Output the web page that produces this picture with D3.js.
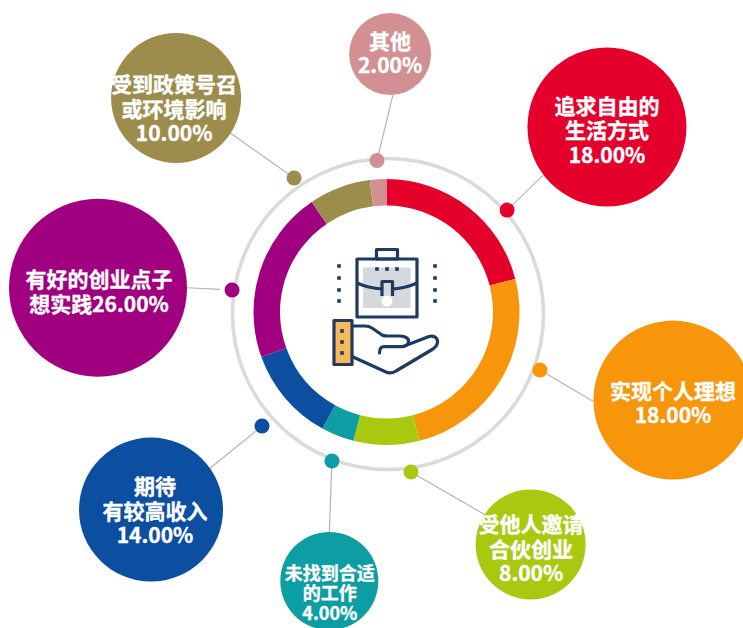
<!DOCTYPE html>
<html>
<head>
    <meta charset="utf-8">
    <style>
        html, body { margin: 0; padding: 0; background: #fff; overflow: hidden; }
        text { font-family: "Noto Sans CJK SC", "Noto Sans", sans-serif; font-weight: 700; }
    </style>
</head>
<body>
    <script src="https://cdnjs.cloudflare.com/ajax/libs/d3/7.8.5/d3.min.js"></script>
    <script>
        // data, clockwise from 12 o'clock
        var categories = ['追求自由的生活方式', '实现个人理想', '受他人邀请合伙创业', '未找到合适的工作',
            '期待有较高收入', '有好的创业点子想实践', '受到政策号召或环境影响', '其他'];
        var labelValues = [18, 18, 8, 4, 14, 26, 10, 2];
        // the ring in the picture is not drawn to the printed percentages, so its shares are read off separately
        var ringShares = [21, 25, 8, 4, 11.5, 21, 7.5, 2];
        var labelLines = [
            ['追求自由的', '生活方式', '18.00%'],
            ['实现个人理想', '18.00%'],
            ['受他人邀请', '合伙创业', '8.00%'],
            ['未找到合适', '的工作', '4.00%'],
            ['期待', '有较高收入', '14.00%'],
            ['有好的创业点子', '想实践26.00%'],
            ['受到政策号召', '或环境影响', '10.00%'],
            ['其他', '2.00%']
        ];
        var colors = ['#e4002b', '#f7950b', '#a8c90f', '#0d9ea3', '#0c4ea0', '#a0007f', '#9c8d4d', '#d29093'];

        // layout around the ring: polar, degrees clockwise from the top
        var dotAngle = [49.8, 110.7, 171.3, 200.1, 227.5, 278.1, 325.4, 356.4];
        var dotDist = [157.9, 164, 161.9, 158.7, 168.8, 156, 162.8, 151.8];
        var bubbleAngle = [50, 107.1, 148.2, 192, 230, 274.8, 315.5, 0.8];
        var bubbleDist = [287.8, 299.7, 273.5, 275, 307.4, 289.5, 300.2, 258];
        var linkAngle = [233, 269, 303, 0, 55, 90, 123, 176];
        var linkGap = [0, 0, 0, 0, 0, 12, 0, 0];
        var textDx = [0, 0, 0.5, 0.5, 4, 1, -2, 0];
        var textDy = [2, 2, 3.5, 11, 0, 2.5, 10, -2];

        var width = 743, height = 628;
        var cx = 386.5, cy = 312;
        var outerRadius = 133, innerRadius = 106.5;

        var radiusScale = d3.scaleLinear()
            .domain([2, 4, 8, 10, 14, 18, 26])
            .range([41, 49, 55, 65, 72, 79.5, 89]);

        function rad(deg) { return deg * Math.PI / 180; }

        function polar(angle, dist, x0, y0) {
            var p = d3.pointRadial(rad(angle), dist);
            return [p[0] + x0, p[1] + y0];
        }

        var svg = d3.select('body')
            .append('svg')
            .attr('width', width)
            .attr('height', height)
            .style('display', 'block');

        // grey ring behind the dots
        svg.append('circle')
            .attr('cx', cx + 1.5)
            .attr('cy', cy + 2)
            .attr('r', 155.5)
            .attr('fill', 'none')
            .attr('stroke', '#dadada')
            .attr('stroke-width', 3.5);

        // donut
        var pie = d3.pie().sort(null).value(function (d) { return d; });
        var arc = d3.arc().innerRadius(innerRadius).outerRadius(outerRadius);

        svg.append('g')
            .attr('transform', 'translate(' + cx + ',' + cy + ')')
            .selectAll('path')
            .data(pie(ringShares))
            .enter()
            .append('path')
            .attr('d', arc)
            .attr('fill', function (d, i) { return colors[i]; });

        // one record per category
        var items = categories.map(function (name, i) {
            var r = radiusScale(labelValues[i]);
            var dot = polar(dotAngle[i], dotDist[i], cx, cy);
            var center = polar(bubbleAngle[i], bubbleDist[i], cx, cy);
            var edge = polar(linkAngle[i], r, center[0], center[1]);
            var len = Math.hypot(dot[0] - edge[0], dot[1] - edge[1]);
            var t = linkGap[i] ? (len - linkGap[i]) / len : 1;
            var end = [edge[0] + (dot[0] - edge[0]) * t, edge[1] + (dot[1] - edge[1]) * t];
            return { name: name, i: i, r: r, dot: dot, center: center, edge: edge, end: end };
        });

        svg.append('g').selectAll('line')
            .data(items)
            .enter()
            .append('line')
            .attr('x1', function (d) { return d.edge[0]; })
            .attr('y1', function (d) { return d.edge[1]; })
            .attr('x2', function (d) { return d.end[0]; })
            .attr('y2', function (d) { return d.end[1]; })
            .attr('stroke', '#b5b5b5')
            .attr('stroke-width', 1.2);

        svg.append('g').selectAll('circle')
            .data(items)
            .enter()
            .append('circle')
            .attr('cx', function (d) { return d.dot[0]; })
            .attr('cy', function (d) { return d.dot[1]; })
            .attr('r', 7.5)
            .attr('fill', function (d) { return colors[d.i]; });

        svg.append('g').selectAll('circle')
            .data(items)
            .enter()
            .append('circle')
            .attr('cx', function (d) { return d.center[0]; })
            .attr('cy', function (d) { return d.center[1]; })
            .attr('r', function (d) { return d.r; })
            .attr('fill', function (d) { return colors[d.i]; });

        // bubble labels
        var labels = svg.append('g').selectAll('text')
            .data(items)
            .enter()
            .append('text')
            .attr('fill', '#fff')
            .attr('stroke', '#fff')
            .attr('stroke-width', 0.35)
            .attr('text-anchor', 'middle')
            .attr('dominant-baseline', 'central')
            .attr('font-size', function (d) { return d.i === 3 ? 18 : 21; });

        labels.selectAll('tspan')
            .data(function (d) {
                var lh = d.i === 3 ? 20 : 24.5;
                var lines = labelLines[d.i];
                return lines.map(function (line, k) {
                    return {
                        line: line,
                        x: d.center[0] + textDx[d.i],
                        y: d.center[1] + textDy[d.i] + (k - (lines.length - 1) / 2) * lh
                    };
                });
            })
            .enter()
            .append('tspan')
            .attr('x', function (d) { return d.x; })
            .attr('y', function (d) { return d.y; })
            .text(function (d) { return d.line; });

        // briefcase and hand icon
        var navy = '#1f3a5f';
        var icon = svg.append('g')
            .attr('fill', 'none')
            .attr('stroke', navy)
            .attr('stroke-width', 3.2)
            .attr('stroke-linejoin', 'round');

        icon.append('rect').attr('x', 363).attr('y', 267.5).attr('width', 47.5).attr('height', 40.5)
            .attr('fill', '#d5d8dc').attr('stroke', 'none');
        icon.append('rect').attr('x', 357).attr('y', 259).attr('width', 60).attr('height', 58);
        icon.append('rect').attr('x', 376.5).attr('y', 249.5).attr('width', 21).attr('height', 9.5);
        icon.append('circle').attr('cx', 387).attr('cy', 301).attr('r', 5.5)
            .attr('fill', '#fff').attr('stroke', 'none');
        icon.append('path').attr('d', 'M357,283 Q368,288 382,289 M393,289 Q406,288 417,283');
        icon.append('path').attr('d', 'M382,296 V281.5 H392.5 V296');

        var squares = [[377, 269], [387, 269], [397, 269]];
        [266, 278, 290, 301].forEach(function (y) {
            squares.push([339, y]);
            squares.push([435, y]);
        });
        icon.append('g').selectAll('rect')
            .data(squares)
            .enter()
            .append('rect')
            .attr('x', function (d) { return d[0] - 1.8; })
            .attr('y', function (d) { return d[1] - 1.8; })
            .attr('width', 3.6)
            .attr('height', 3.6)
            .attr('fill', navy)
            .attr('stroke', 'none');

        icon.append('path')
            .attr('stroke-linecap', 'round')
            .attr('d', 'M352,326 H365 Q369,326 372,328 L382,335 Q384,336 387,336 H400 C406,336 409,339 408.5,342 C408,345 405,346.7 402,346.7 H384 C381,346.7 379.5,349 379.5,353');
        icon.append('path')
            .attr('stroke-linecap', 'round')
            .attr('d', 'M403,346.5 L429,336.5 C434,335 437.5,338 437.5,341.5 C437.5,345 436,347 433,349 L396,371 C392,373.5 389,373.5 386,372 L352,356.5');
        icon.append('rect').attr('x', 334).attr('y', 320.5).attr('width', 18).attr('height', 44)
            .attr('fill', '#f5b95c');
        icon.append('g').selectAll('rect')
            .data([331, 342, 353])
            .enter()
            .append('rect')
            .attr('x', 340.2)
            .attr('y', function (d) { return d - 1.8; })
            .attr('width', 3.6)
            .attr('height', 3.6)
            .attr('fill', navy)
            .attr('stroke', 'none');
    </script>
</body>
</html>
